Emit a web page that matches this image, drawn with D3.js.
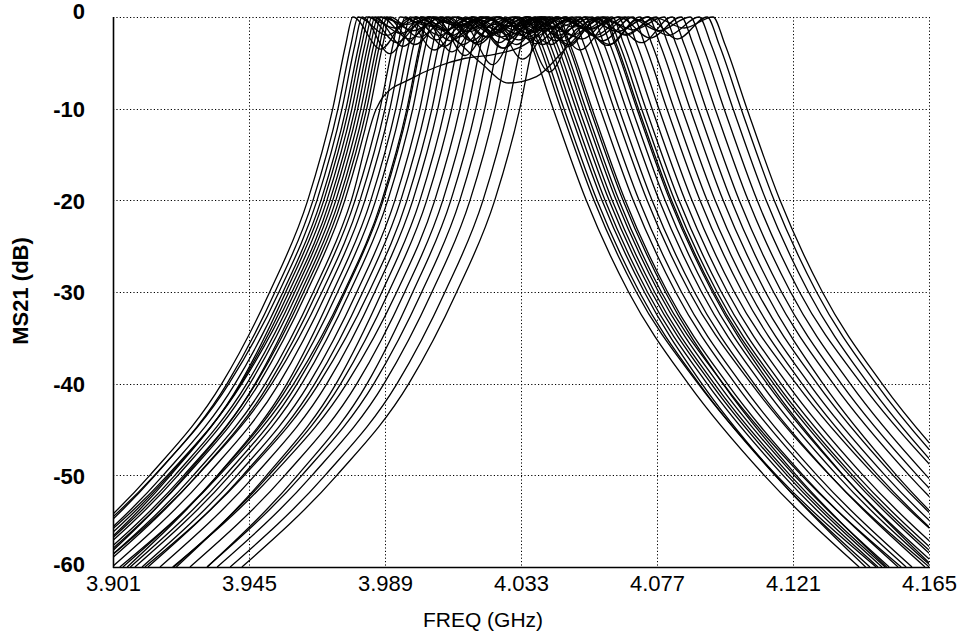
<!DOCTYPE html>
<html>
<head>
<meta charset="utf-8">
<script src="https://cdn.jsdelivr.net/npm/d3@7"></script>
<style>
  body { margin: 0; background: #fff; }
  svg { display: block; font-family: "Liberation Sans", Arial, sans-serif; }
  .grid line { stroke: #000; stroke-width: 1; stroke-dasharray: 1.2,2.2; }
  .trace { fill: none; stroke: #000; stroke-width: 1.3; }
</style>
</head>
<body>
<svg id="chart" width="966" height="640"></svg>
<script>
var levels = [0, -3, -10, -20, -30, -40, -50, -60];

// frequency (GHz) of the lower skirt at each level, one row per trace
var lowSkirt = [
  [3.9786, 3.9763, 3.9721, 3.9640, 3.9517, 3.9362, 3.9129, 3.8822],
  [3.9803, 3.9780, 3.9738, 3.9657, 3.9534, 3.9379, 3.9146, 3.8839],
  [3.9816, 3.9793, 3.9751, 3.9670, 3.9547, 3.9385, 3.9144, 3.8822],
  [3.9829, 3.9806, 3.9764, 3.9683, 3.9560, 3.9405, 3.9172, 3.8865],
  [3.9838, 3.9815, 3.9773, 3.9692, 3.9569, 3.9421, 3.9196, 3.8904],
  [3.9848, 3.9825, 3.9783, 3.9702, 3.9579, 3.9424, 3.9191, 3.8884],
  [3.9858, 3.9835, 3.9793, 3.9712, 3.9589, 3.9427, 3.9186, 3.8864],
  [3.9867, 3.9844, 3.9802, 3.9721, 3.9598, 3.9443, 3.9210, 3.8903],
  [3.9877, 3.9854, 3.9812, 3.9731, 3.9608, 3.9453, 3.9220, 3.8913],
  [3.9887, 3.9864, 3.9822, 3.9741, 3.9618, 3.9470, 3.9245, 3.8953],
  [3.9896, 3.9873, 3.9831, 3.9750, 3.9627, 3.9472, 3.9239, 3.8932],
  [3.9906, 3.9883, 3.9841, 3.9760, 3.9637, 3.9482, 3.9249, 3.8942],
  [3.9939, 3.9916, 3.9874, 3.9793, 3.9670, 3.9515, 3.9282, 3.8975],
  [3.9955, 3.9932, 3.9890, 3.9809, 3.9686, 3.9524, 3.9283, 3.8961],
  [3.9971, 3.9948, 3.9906, 3.9825, 3.9702, 3.9547, 3.9314, 3.9007],
  [3.9990, 3.9967, 3.9925, 3.9844, 3.9721, 3.9573, 3.9348, 3.9056],
  [4.0006, 3.9983, 3.9941, 3.9860, 3.9737, 3.9582, 3.9349, 3.9042],
  [4.0026, 4.0003, 3.9961, 3.9880, 3.9757, 3.9595, 3.9354, 3.9032],
  [4.0045, 4.0022, 3.9980, 3.9899, 3.9776, 3.9621, 3.9388, 3.9081],
  [4.0068, 4.0045, 4.0003, 3.9922, 3.9799, 3.9644, 3.9411, 3.9104],
  [4.0087, 4.0064, 4.0022, 3.9941, 3.9818, 3.9663, 3.9430, 3.9123],
  [4.0107, 4.0084, 4.0042, 3.9961, 3.9838, 3.9676, 3.9435, 3.9113],
  [4.0126, 4.0103, 4.0061, 3.9980, 3.9857, 3.9702, 3.9469, 3.9162],
  [4.0149, 4.0126, 4.0084, 4.0003, 3.9880, 3.9732, 3.9507, 3.9215],
  [4.0171, 4.0148, 4.0106, 4.0025, 3.9902, 3.9747, 3.9514, 3.9207],
  [4.0197, 4.0174, 4.0132, 4.0051, 3.9928, 3.9766, 3.9525, 3.9203],
  [4.0223, 4.0200, 4.0158, 4.0077, 3.9954, 3.9799, 3.9566, 3.9259],
  [4.0249, 4.0226, 4.0184, 4.0103, 3.9980, 3.9832, 3.9607, 3.9315],
  [4.0278, 4.0255, 4.0213, 4.0132, 4.0009, 3.9854, 3.9621, 3.9314],
  [4.0311, 4.0288, 4.0246, 4.0165, 4.0042, 3.9887, 3.9654, 3.9347],
  [4.0353, 4.0330, 4.0288, 4.0207, 4.0084, 3.9929, 3.9696, 3.9389],
  [4.0391, 4.0368, 4.0326, 4.0245, 4.0122, 3.9967, 3.9734, 3.9427],
  [null,   null,   3.9862, 3.9781, 3.9658, 3.9503, 3.9270, 3.8963],
  [4.0030, 4.0007, 3.9965, 3.9884, 3.9761, 3.9606, 3.9373, 3.9066]
];

// frequency (GHz) of the upper skirt at each level
var highSkirt = [
  [4.0324, 4.0363, 4.0434, 4.0541, 4.0678, 4.0871, 4.1117, 4.1424],
  [4.0359, 4.0398, 4.0469, 4.0576, 4.0713, 4.0906, 4.1152, 4.1459],
  [4.0349, 4.0388, 4.0459, 4.0566, 4.0703, 4.0903, 4.1157, 4.1479],
  [4.0385, 4.0424, 4.0495, 4.0602, 4.0739, 4.0932, 4.1178, 4.1485],
  [4.0375, 4.0414, 4.0485, 4.0592, 4.0729, 4.0915, 4.1153, 4.1445],
  [4.0408, 4.0447, 4.0518, 4.0625, 4.0762, 4.0955, 4.1201, 4.1508],
  [4.0398, 4.0437, 4.0508, 4.0615, 4.0752, 4.0945, 4.1191, 4.1498],
  [4.0430, 4.0469, 4.0540, 4.0647, 4.0784, 4.0984, 4.1238, 4.1560],
  [4.0421, 4.0460, 4.0531, 4.0638, 4.0775, 4.0968, 4.1214, 4.1521],
  [4.0450, 4.0489, 4.0560, 4.0667, 4.0804, 4.0997, 4.1243, 4.1550],
  [4.0443, 4.0482, 4.0553, 4.0660, 4.0797, 4.0983, 4.1221, 4.1513],
  [4.0476, 4.0515, 4.0586, 4.0693, 4.0830, 4.1023, 4.1269, 4.1576],
  [4.0495, 4.0534, 4.0605, 4.0712, 4.0849, 4.1042, 4.1288, 4.1595],
  [4.0521, 4.0560, 4.0631, 4.0738, 4.0875, 4.1075, 4.1329, 4.1651],
  [4.0537, 4.0576, 4.0647, 4.0754, 4.0891, 4.1084, 4.1330, 4.1637],
  [4.0560, 4.0599, 4.0670, 4.0777, 4.0914, 4.1107, 4.1353, 4.1660],
  [4.0579, 4.0618, 4.0689, 4.0796, 4.0933, 4.1126, 4.1372, 4.1679],
  [4.0595, 4.0634, 4.0705, 4.0812, 4.0949, 4.1135, 4.1373, 4.1665],
  [4.0624, 4.0663, 4.0734, 4.0841, 4.0978, 4.1171, 4.1417, 4.1724],
  [4.0644, 4.0683, 4.0754, 4.0861, 4.0998, 4.1191, 4.1437, 4.1744],
  [4.0666, 4.0705, 4.0776, 4.0883, 4.1020, 4.1220, 4.1474, 4.1796],
  [4.0692, 4.0731, 4.0802, 4.0909, 4.1046, 4.1239, 4.1485, 4.1792],
  [4.0715, 4.0754, 4.0825, 4.0932, 4.1069, 4.1262, 4.1508, 4.1815],
  [4.0741, 4.0780, 4.0851, 4.0958, 4.1095, 4.1288, 4.1534, 4.1841],
  [4.0767, 4.0806, 4.0877, 4.0984, 4.1121, 4.1307, 4.1545, 4.1837],
  [4.0793, 4.0832, 4.0903, 4.1010, 4.1147, 4.1340, 4.1586, 4.1893],
  [4.0819, 4.0858, 4.0929, 4.1036, 4.1173, 4.1366, 4.1612, 4.1919],
  [4.0848, 4.0887, 4.0958, 4.1065, 4.1202, 4.1395, 4.1641, 4.1948],
  [4.0877, 4.0916, 4.0987, 4.1094, 4.1231, 4.1431, 4.1685, 4.2007],
  [4.0906, 4.0945, 4.1016, 4.1123, 4.1260, 4.1453, 4.1699, 4.2006],
  [4.0932, 4.0971, 4.1042, 4.1149, 4.1286, 4.1479, 4.1725, 4.2032],
  [4.0951, 4.0990, 4.1061, 4.1168, 4.1305, 4.1498, 4.1744, 4.2051],
  [4.0610, 4.0649, 4.0720, 4.0827, 4.0964, 4.1157, 4.1403, 4.1710],
  [4.0600, 4.0639, 4.0710, 4.0817, 4.0954, 4.1147, 4.1393, 4.1700]
];

// passband ripple: frequencies (GHz) and levels (dB) between the two skirts
var passFreq = [
  [3.9876, 3.9965, 4.0055, 4.0145, 4.0234],
  [3.9896, 3.9988, 4.0081, 4.0174, 4.0266],
  [3.9905, 3.9994, 4.0083, 4.0171, 4.0260],
  [3.9922, 4.0014, 4.0107, 4.0200, 4.0292],
  [3.9928, 4.0017, 4.0107, 4.0196, 4.0286],
  [3.9941, 4.0035, 4.0128, 4.0221, 4.0315],
  [3.9948, 4.0038, 4.0128, 4.0218, 4.0308],
  [3.9961, 4.0055, 4.0149, 4.0242, 4.0336],
  [3.9968, 4.0058, 4.0149, 4.0240, 4.0330],
  [3.9981, 4.0075, 4.0169, 4.0262, 4.0356],
  [3.9987, 4.0078, 4.0170, 4.0261, 4.0352],
  [4.0001, 4.0096, 4.0191, 4.0286, 4.0381],
  [4.0032, 4.0124, 4.0217, 4.0310, 4.0402],
  [4.0049, 4.0144, 4.0238, 4.0332, 4.0427],
  [4.0065, 4.0160, 4.0254, 4.0348, 4.0443],
  [4.0085, 4.0180, 4.0275, 4.0370, 4.0465],
  [4.0102, 4.0197, 4.0293, 4.0388, 4.0484],
  [4.0121, 4.0216, 4.0311, 4.0405, 4.0500],
  [4.0142, 4.0238, 4.0335, 4.0431, 4.0528],
  [4.0164, 4.0260, 4.0356, 4.0452, 4.0548],
  [4.0184, 4.0280, 4.0377, 4.0473, 4.0570],
  [4.0205, 4.0302, 4.0400, 4.0497, 4.0595],
  [4.0224, 4.0322, 4.0421, 4.0519, 4.0617],
  [4.0248, 4.0346, 4.0445, 4.0544, 4.0642],
  [4.0270, 4.0370, 4.0469, 4.0568, 4.0668],
  [4.0296, 4.0396, 4.0495, 4.0594, 4.0694],
  [4.0322, 4.0422, 4.0521, 4.0620, 4.0720],
  [4.0349, 4.0449, 4.0549, 4.0648, 4.0748],
  [4.0378, 4.0478, 4.0578, 4.0677, 4.0777],
  [4.0410, 4.0509, 4.0609, 4.0708, 4.0807],
  [4.0450, 4.0546, 4.0643, 4.0739, 4.0836],
  [4.0484, 4.0578, 4.0671, 4.0764, 4.0858],
  [3.9884, 3.9970, 4.0060, 4.0150, 4.0240, 4.0320, 4.0400, 4.0480, 4.0550],
  [4.0110, 4.0200, 4.0290, 4.0380, 4.0470, 4.0550]
];

var passDb = [
  [-3.5, -0.2, -2.5, -0.1, -1.8],
  [-2.0, 0, -3.2, -0.3, -2.2],
  [-4.0, -0.5, -1.5, 0, -2.8],
  [-1.2, 0, -2.0, 0, -1.0],
  [-2.8, -0.3, -3.8, -0.4, -2.5],
  [-1.8, 0, -1.0, -0.1, -3.0],
  [-3.2, -0.6, -2.2, 0, -1.4],
  [-0.8, 0, -1.6, 0, -0.9],
  [-2.4, -0.2, -4.2, -0.8, -2.0],
  [-1.5, 0, -2.6, -0.2, -1.8],
  [-3.0, -0.4, -1.2, 0, -2.2],
  [-2.2, 0, -3.0, -0.3, -1.2],
  [-1.0, 0, -2.2, 0, -1.5],
  [-3.6, -0.8, -5.2, -0.9, -3.0],
  [-2.0, -0.1, -1.4, 0, -2.6],
  [-1.4, 0, -3.4, -0.2, -1.6],
  [-2.6, -0.3, -2.0, -0.1, -3.2],
  [-0.9, 0, -1.8, 0, -1.1],
  [-3.0, -0.2, -4.6, -1.0, -2.4],
  [-1.6, 0, -2.4, -0.1, -1.3],
  [-2.8, -0.5, -1.6, 0, -2.0],
  [-1.2, 0, -3.0, -0.2, -2.6],
  [-2.2, -0.1, -6.0, -1.2, -3.0],
  [-1.8, 0, -1.2, 0, -1.6],
  [-3.4, -0.4, -2.6, -0.1, -1.9],
  [-1.0, 0, -2.0, -0.1, -1.4],
  [-2.5, -0.2, -3.6, -0.5, -2.8],
  [-1.7, 0, -1.4, 0, -2.3],
  [-2.9, -0.3, -2.2, 0, -1.5],
  [-1.3, 0, -3.1, -0.3, -2.0],
  [-2.0, -0.2, -1.6, 0, -2.4],
  [-3.0, -0.3, -2.0, -0.1, -1.2],
  [-8.7, -6.8, -5.4, -4.5, -4.1, -3.4, -1.8, -0.5, -1.2],
  [-2.2, -5.0, -7.2, -6.5, -3.6, -0.9]
];

var freqTicks = [3.901, 3.945, 3.989, 4.033, 4.077, 4.121, 4.165];
var dbTicks = [0, -10, -20, -30, -40, -50, -60];

var svg = d3.select("#chart");
var plotL = 113, plotR = 929, plotT = 17, plotB = 567;

var x = d3.scaleLinear().domain([3.901, 4.165]).range([plotL, plotR]);
var y = d3.scaleLinear().domain([-60, 0]).range([plotB, plotT]);

svg.append("rect").attr("width", 966).attr("height", 640).attr("fill", "#fff");

// dotted grid
var grid = svg.append("g").attr("class", "grid");
grid.selectAll(".vx").data(freqTicks.slice(1)).enter().append("line")
  .attr("x1", function(d){ return Math.round(x(d)) + 0.5; })
  .attr("x2", function(d){ return Math.round(x(d)) + 0.5; })
  .attr("y1", plotT).attr("y2", plotB);
grid.selectAll(".hy").data(dbTicks.slice(0, -1)).enter().append("line")
  .attr("y1", function(d){ return Math.round(y(d)) + 0.5; })
  .attr("y2", function(d){ return Math.round(y(d)) + 0.5; })
  .attr("x1", plotL).attr("x2", plotR);

// traces
svg.append("clipPath").attr("id", "plotClip").append("rect")
  .attr("x", plotL).attr("y", plotT - 2).attr("width", plotR - plotL).attr("height", plotB - plotT + 2);

function tracePoints(i) {
  var pts = [];
  for (var k = levels.length - 1; k >= 0; k--) {
    if (lowSkirt[i][k] != null) pts.push([lowSkirt[i][k], levels[k]]);
  }
  for (var j = 0; j < passFreq[i].length; j++) {
    pts.push([passFreq[i][j], passDb[i][j]]);
  }
  for (var k = 0; k < levels.length; k++) {
    if (highSkirt[i][k] != null) pts.push([highSkirt[i][k], levels[k]]);
  }
  return pts;
}

var line = d3.line()
  .x(function(d){ return x(d[0]); })
  .y(function(d){ return y(d[1]); })
  .curve(d3.curveMonotoneX);

svg.append("g").attr("clip-path", "url(#plotClip)")
  .selectAll("path").data(d3.range(lowSkirt.length)).enter().append("path")
  .attr("class", "trace")
  .attr("d", function(i){ return line(tracePoints(i)); });

// solid left and bottom frame
svg.append("line").attr("x1", plotL + 0.5).attr("x2", plotL + 0.5).attr("y1", plotT).attr("y2", plotB + 1)
  .attr("stroke", "#000").attr("stroke-width", 1.6);
svg.append("line").attr("x1", plotL).attr("x2", plotR + 1).attr("y1", plotB + 0.5).attr("y2", plotB + 0.5)
  .attr("stroke", "#000").attr("stroke-width", 1.6);

// axes (labels only)
var xAxis = d3.axisBottom(x).tickValues(freqTicks).tickSize(0).tickPadding(0)
  .tickFormat(d3.format(".3f"));
var gx = svg.append("g").attr("transform", "translate(0," + plotB + ")").call(xAxis);
gx.select(".domain").remove();
gx.selectAll("text").attr("y", 24).attr("dy", 0)
  .style("font-size", "22px").style("font-family", "Liberation Sans, Arial, sans-serif").attr("fill", "#000");

var yAxis = d3.axisLeft(y).tickValues(dbTicks).tickSize(0).tickPadding(0)
  .tickFormat(function(d){ return d; });
var gy = svg.append("g").attr("transform", "translate(85,0)").call(yAxis);
gy.select(".domain").remove();
gy.selectAll("text").attr("x", 0)
  .attr("dy", function(d){ return d === 0 ? "0.05em" : (d === -60 ? "0.2em" : "0.35em"); })
  .style("font-size", "22px").style("font-weight", "bold")
  .style("font-family", "Liberation Sans, Arial, sans-serif").attr("fill", "#000");

svg.append("text").attr("x", 483).attr("y", 627).attr("text-anchor", "middle")
  .style("font-size", "21px").text("FREQ (GHz)");
svg.append("text").attr("transform", "translate(28,291) rotate(-90)").attr("text-anchor", "middle")
  .style("font-size", "22px").style("font-weight", "bold").text("MS21 (dB)");
</script>
</body>
</html>
